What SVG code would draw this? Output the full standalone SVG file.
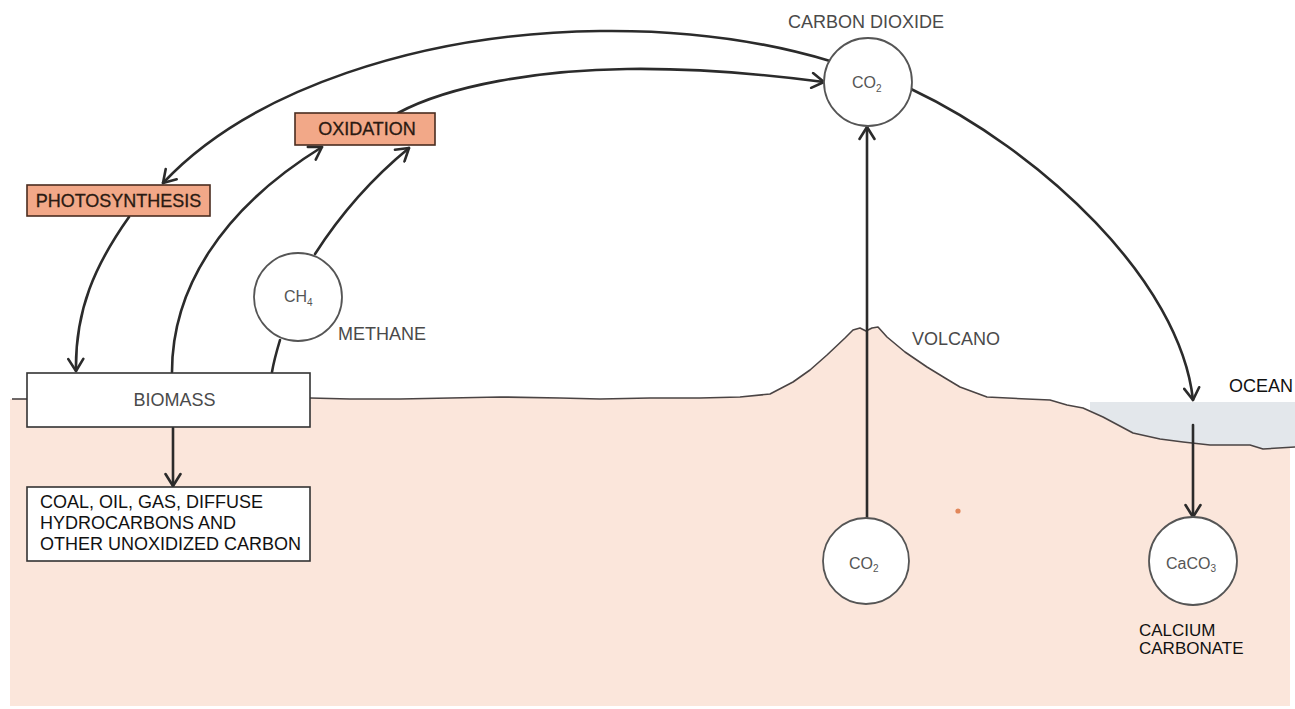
<svg xmlns="http://www.w3.org/2000/svg" width="1295" height="709" viewBox="0 0 1295 709">
  <defs>
    <style>
      .lbl { font-family: "Liberation Sans", Arial, sans-serif; font-size: 18px; fill: #4a4a4a; }
      .dark { fill: #111; }
      .small { font-size: 17px; }
      .proc { font-family: "Liberation Sans", Arial, sans-serif; font-size: 18px; fill: #2a1a12; stroke: #2a1a12; stroke-width: 0.3; }
      .chem { font-family: "Liberation Sans", Arial, sans-serif; font-size: 16px; fill: #555; }
      .sub { font-size: 10px; }
      .pool { fill: #fff; stroke: #555; stroke-width: 1.8; }
      .box { fill: #fff; stroke: #333; stroke-width: 1.6; }
      .procbox { fill: #f2a888; stroke: #4a2c20; stroke-width: 1.6; }
      .flow { fill: none; stroke: #2b2b2b; stroke-width: 2.6; stroke-linecap: round; }
      .flow.head { marker-end: url(#arrow); }
      .ground { fill: none; stroke: #4a4444; stroke-width: 1.6; stroke-linejoin: round; }
    </style>
    <marker id="arrow" markerUnits="userSpaceOnUse" viewBox="-14 -9 16 18" markerWidth="16" markerHeight="18" refX="0" refY="0" orient="auto">
      <path d="M-12,-7.5 L0,0 L-12,7.5" fill="none" stroke="#2b2b2b" stroke-width="2.6" stroke-linecap="round" stroke-linejoin="round"/>
    </marker>
  </defs>

  <rect width="1295" height="709" fill="#fff"/>

  <!-- earth cross-section -->
  <g id="earth">
    <path fill="#fbe6db" d="M10,399 L27,399 L310,398 L350,399 L400,399 L450,398 L500,397 L560,398 L600,399 L650,398 L700,398 L740,397 L770,394 L793,382 L810,370 L827,355 L845,338 L853,330 L860,328 L866,331 L872,328 L878,327 L887,337 L905,352 L927,367 L945,378 L960,387 L987,397 L1027,399 L1050,400 L1067,405 L1083,408 L1103,417 L1133,433 L1160,439 L1183,442 L1210,445 L1250,445 L1263,449 L1290,447 L1290,706 L10,706 Z"/>
    <path id="ocean" fill="#e3e7eb" d="M1090,402 L1295,402 L1295,447 L1263,449 L1250,445 L1210,445 L1183,442 L1160,439 L1133,433 L1103,417 L1090,410 Z"/>
    <path class="ground" d="M12,399 L27,399"/>
    <path class="ground" d="M310,398 L350,399 L400,399 L450,398 L500,397 L560,398 L600,399 L650,398 L700,398 L740,397 L770,394 L793,382 L810,370 L827,355 L845,338 L853,330 L860,328 L866,331 L872,328 L878,327 L887,337 L905,352 L927,367 L945,378 L960,387 L987,397 L1027,399 L1050,400 L1067,405 L1083,408 L1103,417 L1133,433 L1160,439 L1183,442 L1210,445 L1250,445 L1263,449 L1295,447"/>
    <circle cx="958" cy="511" r="2.6" fill="#e2875a"/>
    <text class="lbl" x="912" y="345">VOLCANO</text>
    <text class="lbl dark" x="1229" y="392">OCEAN</text>
  </g>

  <!-- flows -->
  <g id="connectors">
    <path class="flow head" d="M830,61 C760,40 680,30 600,31 C420,33 250,90 163,183"/>
    <path class="flow head" d="M398,113 C450,85 540,70 627,69 C700,68 770,75 824,82"/>
    <path class="flow head" d="M129,217 C95,265 75,310 76,371"/>
    <path class="flow head" d="M172,372 C172,290 220,210 322,147"/>
    <path class="flow" d="M272,372 C274,360 277,350 280,340"/>
    <path class="flow head" d="M315,254 C340,215 370,180 409,148"/>
    <path class="flow head" d="M173,428 L173,486"/>
    <path class="flow head" d="M867,518 L867,127"/>
    <path class="flow head" d="M911,89 C1040,150 1180,280 1193,400"/>
    <path class="flow head" d="M1193,425 L1193,517"/>
  </g>

  <g id="co2-atmosphere">
    <text class="lbl" x="788" y="28">CARBON DIOXIDE</text>
    <circle class="pool" cx="868" cy="82" r="44"/>
    <text class="chem" x="852" y="88">CO<tspan class="sub" dy="4">2</tspan></text>
  </g>

  <g id="photosynthesis">
    <rect class="procbox" x="27" y="185" width="183" height="31"/>
    <text class="proc" x="118.5" y="207" text-anchor="middle">PHOTOSYNTHESIS</text>
  </g>

  <g id="oxidation">
    <rect class="procbox" x="295" y="113" width="140" height="32"/>
    <text class="proc" x="367" y="135" text-anchor="middle">OXIDATION</text>
  </g>

  <g id="methane">
    <circle class="pool" cx="298" cy="297" r="44"/>
    <text class="chem" x="284" y="302">CH<tspan class="sub" dy="4">4</tspan></text>
    <text class="lbl" x="338" y="340">METHANE</text>
  </g>

  <g id="biomass">
    <rect class="box" x="27" y="373" width="283" height="54"/>
    <text class="lbl" x="174.5" y="406" text-anchor="middle">BIOMASS</text>
  </g>

  <g id="fossil-carbon">
    <rect class="box" x="27" y="487" width="283" height="74"/>
    <text class="lbl dark" x="40" y="508">COAL, OIL, GAS, DIFFUSE</text>
    <text class="lbl dark" x="40" y="529">HYDROCARBONS AND</text>
    <text class="lbl dark" x="40" y="550">OTHER UNOXIDIZED CARBON</text>
  </g>

  <g id="co2-magma">
    <circle class="pool" cx="866" cy="561" r="43"/>
    <text class="chem" x="849" y="569">CO<tspan class="sub" dy="3">2</tspan></text>
  </g>

  <g id="calcium-carbonate">
    <circle class="pool" cx="1193" cy="561" r="44"/>
    <text class="chem" x="1166" y="569">CaCO<tspan class="sub" dy="3">3</tspan></text>
    <text class="lbl dark small" x="1139" y="636">CALCIUM</text>
    <text class="lbl dark small" x="1139" y="654">CARBONATE</text>
  </g>
</svg>
